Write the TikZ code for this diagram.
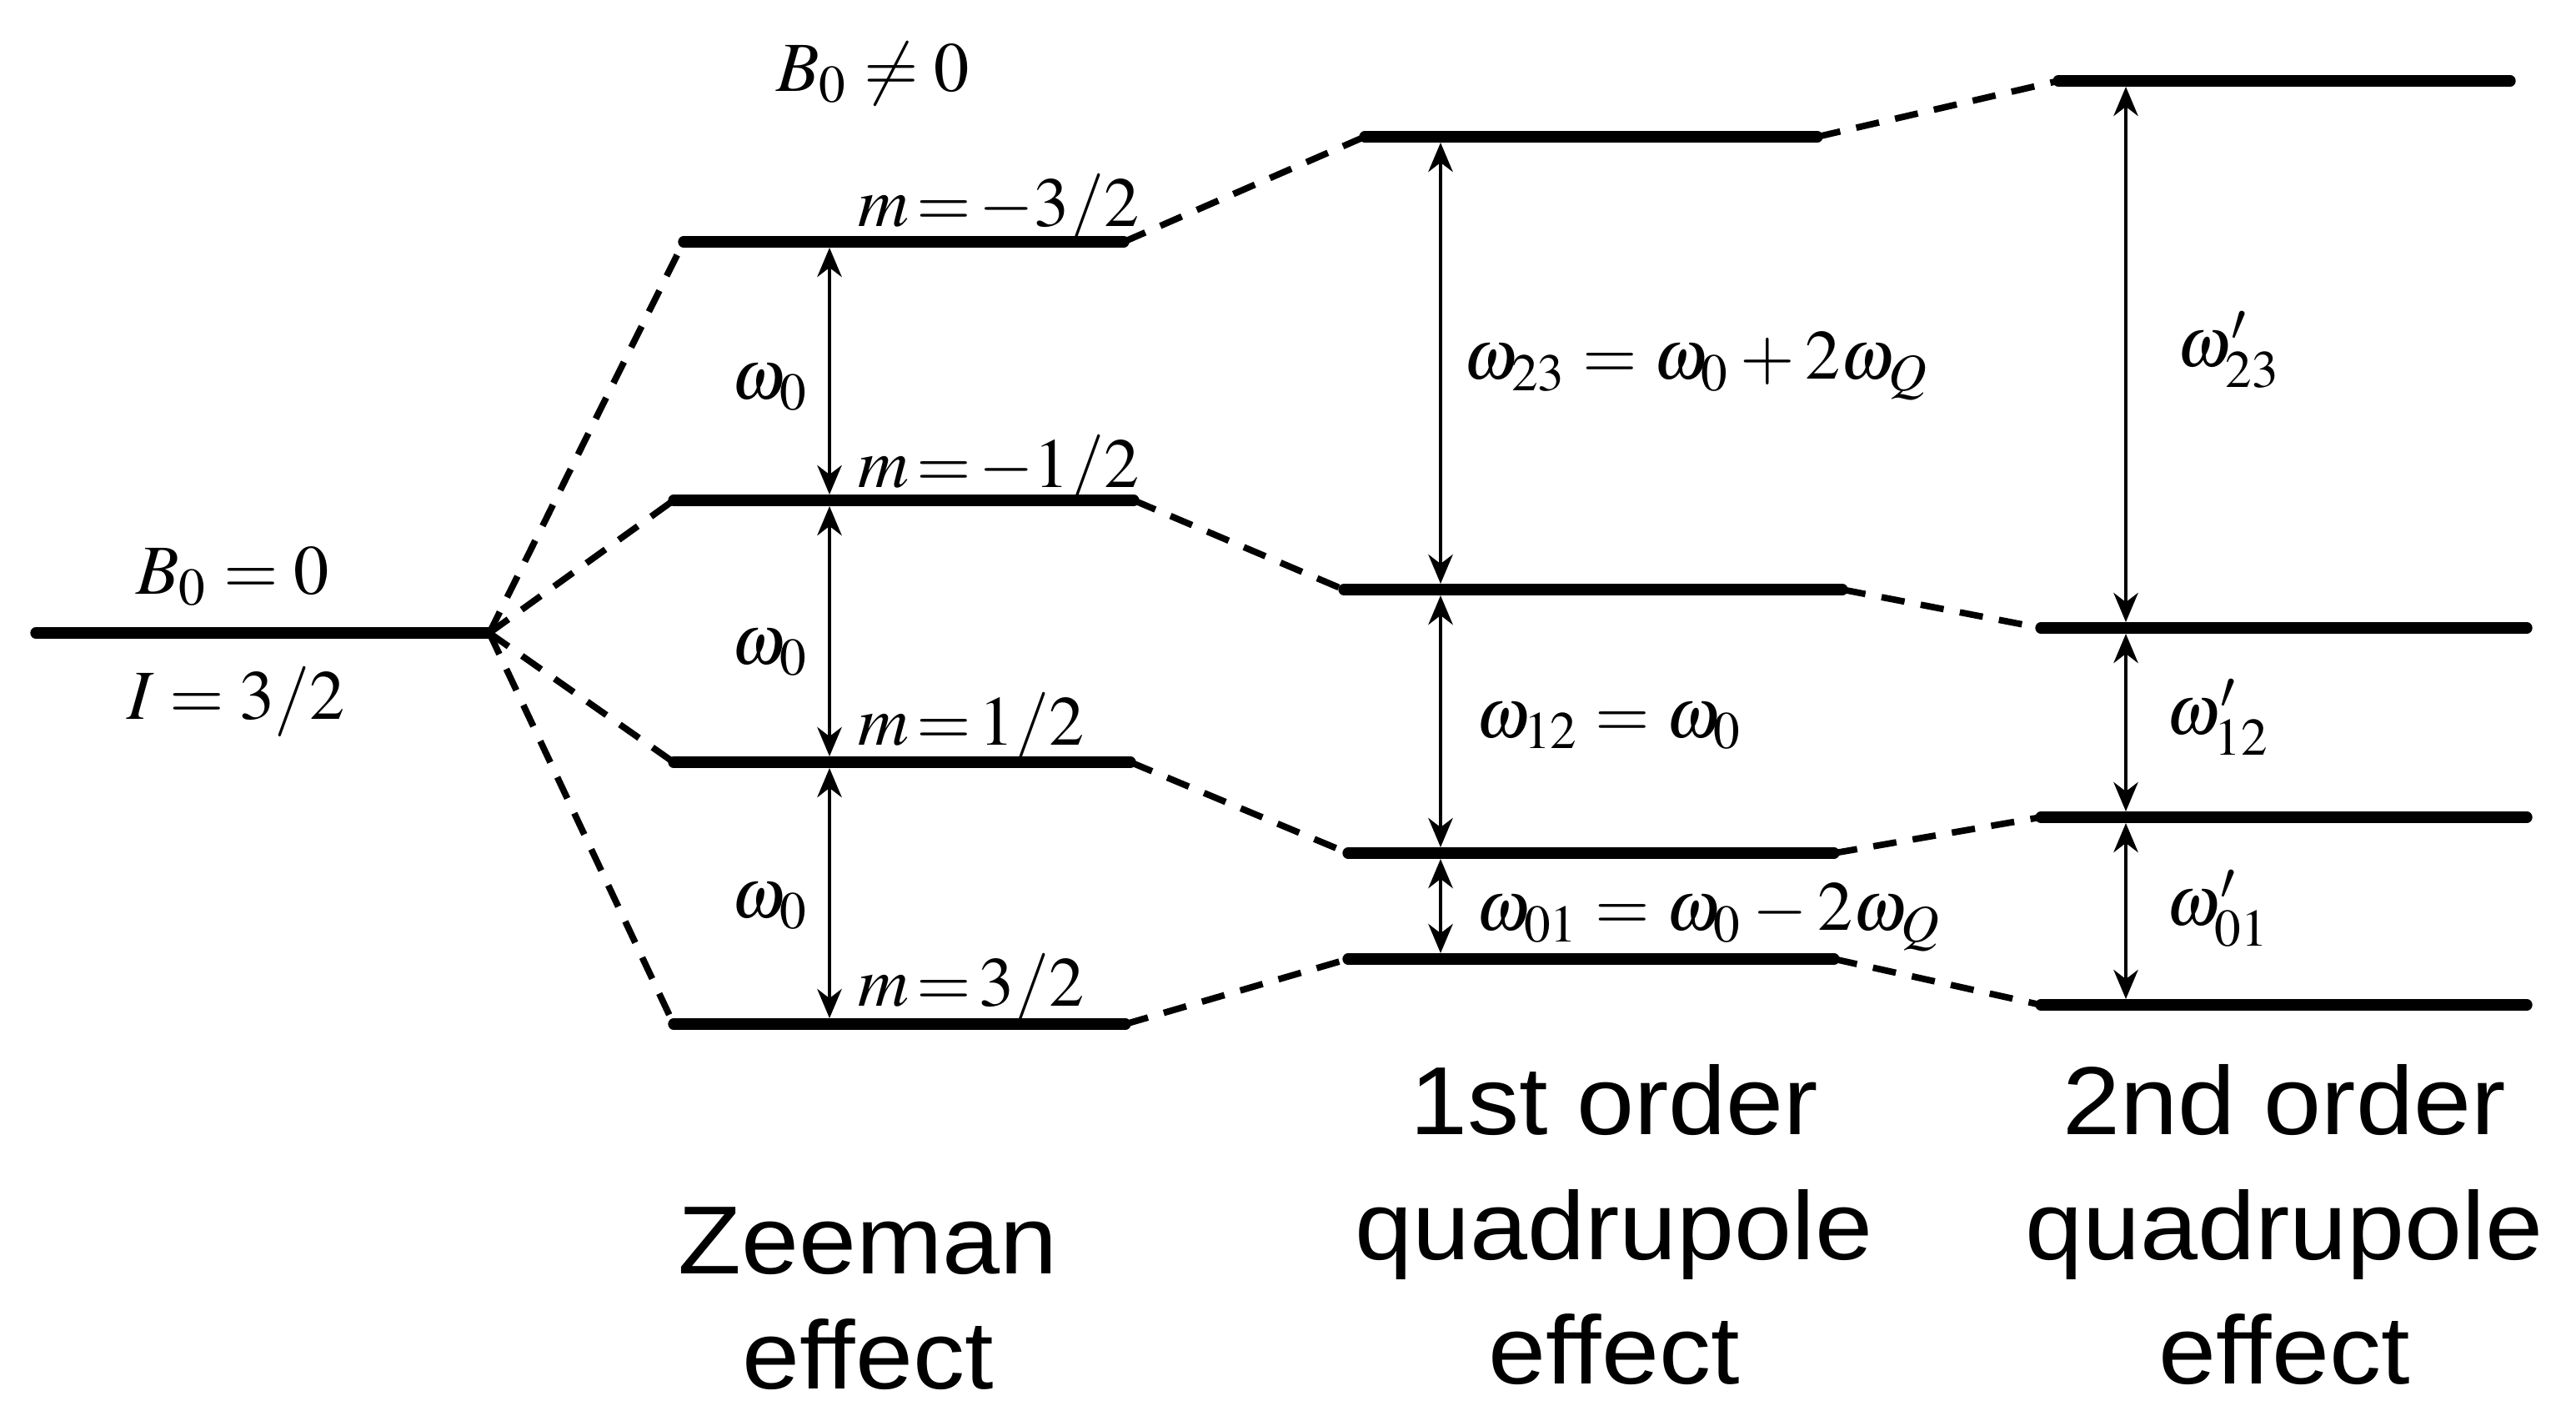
\documentclass[tikz,border=0pt]{standalone}
\usepackage{mathptmx}
\usepackage[no-math]{fontspec}
\newfontfamily\effectfont[FakeStretch=1.07]{Liberation Sans}
\usetikzlibrary{arrows.meta}
\tikzset{
  lvl/.style={line width=1.9pt,line cap=round},
  fan/.style={line width=1.1pt,dash pattern=on 4pt off 2.8pt},
  trans/.style={{Stealth[length=5pt,width=4.2pt,inset=1.6pt]}-{Stealth[length=5pt,width=4.2pt,inset=1.6pt]},line width=0.45pt,shorten <=1pt,shorten >=1pt},
  mlab/.style={inner sep=0pt,font=\fontsize{12}{14}\selectfont},
  effect/.style={inner sep=0pt,align=center,anchor=north,font=\effectfont\fontsize{16.5}{21.3}\selectfont},
}

\begin{document}
\begin{tikzpicture}[x=0.5cm,y=-0.5cm]
  \useasboundingbox (0,0) rectangle (30.9,17.09);

  % no field
  \coordinate (g-l) at (0.43,7.59);
  \coordinate (g-r) at (5.87,7.59);
  \draw[lvl] (g-l) -- (g-r);
  \node[mlab] (b0)   at (2.79,6.91) {$B_0=0$};
  \node[mlab] (spin) at (2.83,8.42) {$I=3/2$};

  % Zeeman
  \coordinate (z3-l) at (8.20,2.90);  \coordinate (z3-r) at (13.48,2.90);
  \coordinate (z2-l) at (8.08,6.00);  \coordinate (z2-r) at (13.60,6.00);
  \coordinate (z1-l) at (8.08,9.14);  \coordinate (z1-r) at (13.56,9.14);
  \coordinate (z0-l) at (8.08,12.28); \coordinate (z0-r) at (13.50,12.28);
  \draw[lvl] (z3-l) -- (z3-r);
  \draw[lvl] (z2-l) -- (z2-r);
  \draw[lvl] (z1-l) -- (z1-r);
  \draw[lvl] (z0-l) -- (z0-r);
  \draw[fan] (g-r) -- (z3-l);
  \draw[fan] (g-r) -- (z2-l);
  \draw[fan] (g-r) -- (z1-l);
  \draw[fan] (g-r) -- (z0-l);
  \node[mlab] (bz) at (10.47,0.88) {$B_0\neq0$};
  \node[mlab,anchor=base west] (m3) at (10.28,2.71)  {$m\!=\!-3/2$};
  \node[mlab,anchor=base west] (m2) at (10.28,5.84)  {$m\!=\!-1/2$};
  \node[mlab,anchor=base west] (m1) at (10.28,8.93)  {$m\!=\!1/2$};
  \node[mlab,anchor=base west] (m0) at (10.28,12.06) {$m\!=\!3/2$};
  \coordinate (za) at (9.95,0);
  \draw[trans] (za |- z3-l) -- (za |- z2-l);
  \draw[trans] (za |- z2-l) -- (za |- z1-l);
  \draw[trans] (za |- z1-l) -- (za |- z0-l);
  \node[mlab,anchor=east] (wz3) at (9.72,4.65)  {$\omega_0$};
  \node[mlab,anchor=east] (wz2) at (9.72,7.83)  {$\omega_0$};
  \node[mlab,anchor=east] (wz1) at (9.72,10.87) {$\omega_0$};

  % 1st order quadrupole
  \coordinate (q3-l) at (16.37,1.64);  \coordinate (q3-r) at (21.80,1.64);
  \coordinate (q2-l) at (16.12,7.07);  \coordinate (q2-r) at (22.10,7.07);
  \coordinate (q1-l) at (16.17,10.23); \coordinate (q1-r) at (22.00,10.23);
  \coordinate (q0-l) at (16.17,11.50); \coordinate (q0-r) at (22.00,11.50);
  \draw[lvl] (q3-l) -- (q3-r);
  \draw[lvl] (q2-l) -- (q2-r);
  \draw[lvl] (q1-l) -- (q1-r);
  \draw[lvl] (q0-l) -- (q0-r);
  \draw[fan] (z3-r) -- (q3-l);
  \draw[fan] (z2-r) -- (q2-l);
  \draw[fan] (z1-r) -- (q1-l);
  \draw[fan] (z0-r) -- (q0-l);
  \coordinate (qa) at (17.28,0);
  \draw[trans] (qa |- q3-l) -- (qa |- q2-l);
  \draw[trans] (qa |- q2-l) -- (qa |- q1-l);
  \draw[trans] (qa |- q1-l) -- (qa |- q0-l);
  \node[mlab,anchor=west] (wq3) at (17.54,4.39)  {$\omega_{23}=\omega_0+2\omega_Q$};
  \node[mlab,anchor=west] (wq2) at (17.69,8.71)  {$\omega_{12}=\omega_0$};
  \node[mlab,anchor=west] (wq1) at (17.69,11.00) {$\omega_{01}=\omega_0-2\omega_Q$};

  % 2nd order quadrupole
  \coordinate (s3-l) at (24.69,0.97);  \coordinate (s3-r) at (30.11,0.97);
  \coordinate (s2-l) at (24.48,7.53);  \coordinate (s2-r) at (30.31,7.53);
  \coordinate (s1-l) at (24.48,9.80);  \coordinate (s1-r) at (30.31,9.80);
  \coordinate (s0-l) at (24.48,12.05); \coordinate (s0-r) at (30.31,12.05);
  \draw[lvl] (s3-l) -- (s3-r);
  \draw[lvl] (s2-l) -- (s2-r);
  \draw[lvl] (s1-l) -- (s1-r);
  \draw[lvl] (s0-l) -- (s0-r);
  \draw[fan] (q3-r) -- (s3-l);
  \draw[fan] (q2-r) -- (s2-l);
  \draw[fan] (q1-r) -- (s1-l);
  \draw[fan] (q0-r) -- (s0-l);
  \coordinate (sa) at (25.50,0);
  \draw[trans] (sa |- s3-l) -- (sa |- s2-l);
  \draw[trans] (sa |- s2-l) -- (sa |- s1-l);
  \draw[trans] (sa |- s1-l) -- (sa |- s0-l);
  \node[mlab] (ws3) at (26.74,4.20)  {$\omega'_{23}$};
  \node[mlab] (ws2) at (26.61,8.60)  {$\omega'_{12}$};
  \node[mlab] (ws1) at (26.61,10.90) {$\omega'_{01}$};

  % captions
  \node[effect,font=\effectfont\fontsize{16.5}{19.6}\selectfont] (ezee) at (10.41,14.46) {Zeeman\\effect};
  \node[effect] (efst) at (19.36,12.75) {1st order\\quadrupole\\effect};
  \node[effect] (esnd) at (27.40,12.75) {2nd order\\quadrupole\\effect};
\end{tikzpicture}
\end{document}
